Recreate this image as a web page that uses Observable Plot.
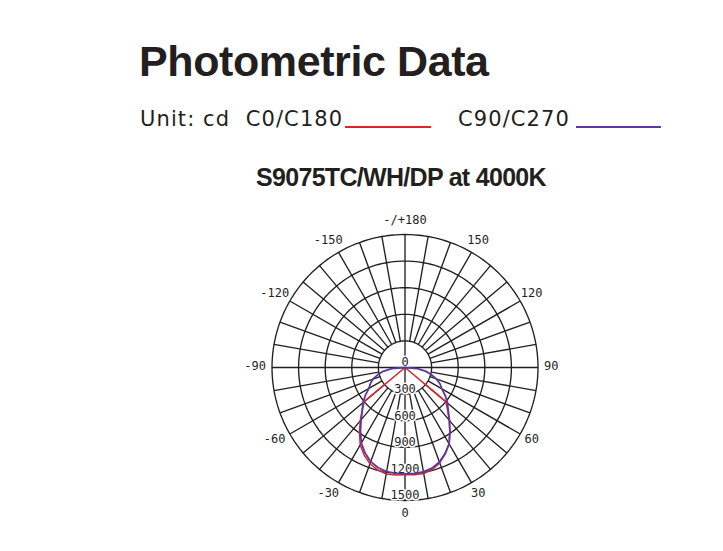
<!DOCTYPE html>
<html>
<head>
<meta charset="utf-8">
<script src="https://cdn.jsdelivr.net/npm/d3@7"></script>
<script src="https://cdn.jsdelivr.net/npm/@observablehq/plot@0.6"></script>
<style>
  body { margin: 0; background: #fff; }
  #page { position: relative; width: 723px; height: 551px; overflow: hidden; background: #fff; color: #231f20; }
  .t { position: absolute; white-space: pre; }
  #title { left: 139px; top: 40px; font: bold 43px/43px "Liberation Sans", Arial, sans-serif; letter-spacing: -0.4px; }
  .leg { top: 109px; font: 21px/21px "DejaVu Sans", sans-serif; letter-spacing: 1.1px; }
  .swatch { position: absolute; height: 2px; top: 125.5px; }
  #subtitle { left: 0; width: 802px; text-align: center; top: 165px; font: bold 25px/25px "Liberation Sans", Arial, sans-serif; letter-spacing: -0.7px; }
  #chart { position: absolute; left: 0; top: 195px; }
</style>
</head>
<body>
<div id="page">
  <div id="title" class="t">Photometric Data</div>
  <div class="t leg" style="left:140px">Unit: cd  C0/C180</div>
  <div class="swatch" id="sw0" style="left:345px;width:86px"></div>
  <div class="t leg" style="left:458px">C90/C270</div>
  <div class="swatch" id="sw1" style="left:576px;width:85px"></div>
  <div id="subtitle" class="t">S9075TC/WH/DP at 4000K</div>
  <div id="chart"></div>
</div>
<script>
// Vertical angles (degrees from nadir; negative = the opposite half-plane)
const angles = [-90,-85,-80,-75,-70,-65,-60,-55,-50,-45,-40,-35,-30,-25,-20,-15,-10,-5,0,
                5,10,15,20,25,30,35,40,45,50,55,60,65,70,75,80,85,90];

// Luminous intensity (cd) in the C0/C180 plane
const c0c180 = [0,0,0,0,0,0,0,0,600,685,785,895,1010,1090,1155,1195,1220,1218,1210,
                1215,1215,1190,1145,1075,995,880,775,680,600,0,0,0,0,0,0,0,0];

// Luminous intensity (cd) in the C90/C270 plane
const c90c270 = [0,150,250,320,385,430,470,545,620,680,770,875,985,1065,1130,1170,1192,1198,1200,
                 1200,1195,1175,1135,1070,995,885,780,690,625,555,480,435,375,305,235,140,0];

const seriesNames = ["C0/C180", "C90/C270"];
const seriesColors = ["#e3202c", "#5a3a9e"];

// Polar grid: intensity rings and the angle labels around the rim
const ringValues = [300, 600, 900, 1200, 1500];
const ringLabels = [0, 300, 600, 900, 1200, 1500];
const angleTicks = [180, 150, 120, 90, 60, 30, 0, -30, -60, -90, -120, -150];
const angleLabels = ["-/+180", "150", "120", "90", "60", "30", "0", "-30", "-60", "-90", "-120", "-150"];

const rad = d => d * Math.PI / 180;
// angle measured from straight down, positive towards the right
const px = (a, r) => r * Math.sin(rad(a));
const py = (a, r) => -r * Math.cos(rad(a));

const curves = [c0c180, c90c270].map((vals, i) =>
  angles.map((a, j) => ({series: seriesNames[i], x: px(a, vals[j]), y: py(a, vals[j])})));

const ringPts = ringValues.flatMap(v =>
  d3.range(0, 361, 2).map(a => ({ring: v, x: px(a, v), y: py(a, v)})));

const spokes = d3.range(0, 360, 10).map(a => {
  const r0 = a % 90 === 0 ? 0 : ringValues[0];
  const r1 = ringValues[ringValues.length - 1];
  return {x1: px(a, r0), y1: py(a, r0), x2: px(a, r1), y2: py(a, r1)};
});

// rim labels: the number is centred on its direction, a leading minus hangs outside
const labelRadius = 1650;
const rimLabels = angleTicks.map((a, i) => {
  const t = angleLabels[i];
  const hang = t.startsWith("-") && !t.startsWith("-/") ? -3.6 : 0;
  return {text: t, x: px(a, labelRadius), y: py(a, labelRadius), hang};
});
const ringText = ringLabels.map(v => ({text: String(v), x: 0, y: -v}));

document.getElementById("sw0").style.background = seriesColors[0];
document.getElementById("sw1").style.background = seriesColors[1];

const gridColor = "#231f20";
const chart = Plot.plot({
  width: 723,
  height: 335,
  marginLeft: 271.5,
  marginRight: 185.5,
  marginTop: 39,
  marginBottom: 30,
  x: {domain: [-1500, 1500], axis: null},
  y: {domain: [-1500, 1500], axis: null},
  style: {fontFamily: "'DejaVu Sans Mono', monospace", background: "#fff"},
  marks: [
    Plot.line(ringPts, {x: "x", y: "y", z: "ring", stroke: gridColor, strokeWidth: 1.35}),
    Plot.link(spokes, {x1: "x1", y1: "y1", x2: "x2", y2: "y2", stroke: gridColor, strokeWidth: 1.35}),
    Plot.text(ringText, {x: "x", y: "y", text: "text", fontSize: 12, fill: gridColor,
      dy: -5, stroke: "#fff", strokeWidth: 3}),
    Plot.line(curves[0], {x: "x", y: "y", stroke: seriesColors[0], strokeWidth: 1.5}),
    Plot.line(curves[1], {x: "x", y: "y", stroke: seriesColors[1], strokeWidth: 1.8}),
    Plot.text(rimLabels.filter(d => d.hang === 0), {x: "x", y: "y", text: "text", fontSize: 12, fill: gridColor, dy: -1}),
    Plot.text(rimLabels.filter(d => d.hang !== 0), {x: "x", y: "y", text: "text", fontSize: 12, fill: gridColor, dy: -1, dx: -3.6})
  ]
});
document.getElementById("chart").appendChild(chart);
</script>
</body>
</html>
